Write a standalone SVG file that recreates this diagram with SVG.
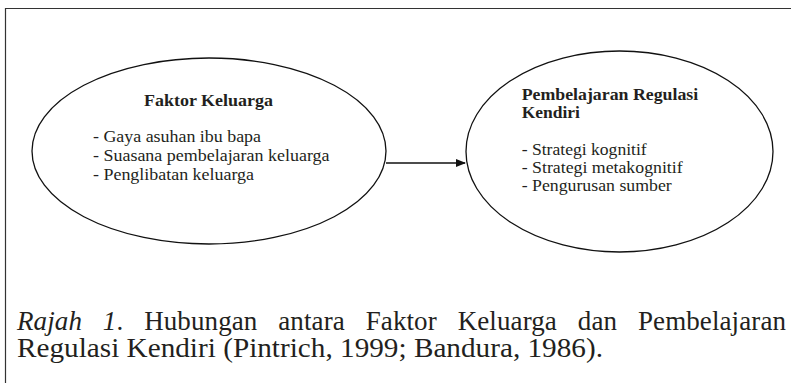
<svg xmlns="http://www.w3.org/2000/svg" width="791" height="383" viewBox="0 0 791 383">
<style>
.frame{fill:none;stroke:#333;stroke-width:1.2}
.node{fill:#fff;stroke:#111;stroke-width:1.3}
.t{font-size:16px;fill:#231f20}
.b{font-weight:bold}
.cap{font-size:27px;fill:#231f20}
.conn{stroke:#111;stroke-width:1.4;fill:none}
</style>
<defs>
<marker id="arr" markerWidth="10" markerHeight="8" refX="9" refY="4" orient="auto" markerUnits="userSpaceOnUse">
<path d="M0,0 L10,4 L0,8 Z" fill="#111"/>
</marker>
</defs>
<rect width="791" height="383" fill="#fff"/>
<path class="frame" d="M5.5,383 L5.5,8.5 L791,8.5"/>
<g id="connectors">
<line class="conn" x1="386" y1="163" x2="465" y2="163" marker-end="url(#arr)"/>
</g>
<g id="faktor-keluarga" font-family="'Liberation Serif', 'Times New Roman', serif">
<ellipse class="node" cx="209" cy="151" rx="177" ry="93"/>
<text class="t b" x="144" y="106" textLength="129" lengthAdjust="spacingAndGlyphs">Faktor Keluarga</text>
<text class="t" x="93" y="141.5" textLength="168" lengthAdjust="spacingAndGlyphs">- Gaya asuhan ibu bapa</text>
<text class="t" x="93" y="161" textLength="236.5" lengthAdjust="spacingAndGlyphs">- Suasana pembelajaran keluarga</text>
<text class="t" x="93" y="180" textLength="161" lengthAdjust="spacingAndGlyphs">- Penglibatan keluarga</text>
</g>
<g id="pembelajaran-regulasi-kendiri" font-family="'Liberation Serif', 'Times New Roman', serif">
<ellipse class="node" cx="619.5" cy="151.5" rx="153.5" ry="100.5"/>
<text class="t b" x="521.7" y="100" textLength="176.5" lengthAdjust="spacingAndGlyphs">Pembelajaran Regulasi</text>
<text class="t b" x="521.7" y="118" textLength="58.3" lengthAdjust="spacingAndGlyphs">Kendiri</text>
<text class="t" x="521.7" y="155" textLength="125" lengthAdjust="spacingAndGlyphs">- Strategi kognitif</text>
<text class="t" x="521.7" y="173" textLength="161" lengthAdjust="spacingAndGlyphs">- Strategi metakognitif</text>
<text class="t" x="521.7" y="191" textLength="150" lengthAdjust="spacingAndGlyphs">- Pengurusan sumber</text>
</g>
<g id="caption" font-family="'Liberation Serif', 'Times New Roman', serif">
<text class="cap" x="17" y="330" word-spacing="14" textLength="769" lengthAdjust="spacing"><tspan font-style="italic">Rajah 1</tspan>. Hubungan antara Faktor Keluarga dan Pembelajaran</text>
<text class="cap" x="17" y="357" textLength="586" lengthAdjust="spacingAndGlyphs">Regulasi Kendiri (Pintrich, 1999; Bandura, 1986).</text>
</g>
</svg>
